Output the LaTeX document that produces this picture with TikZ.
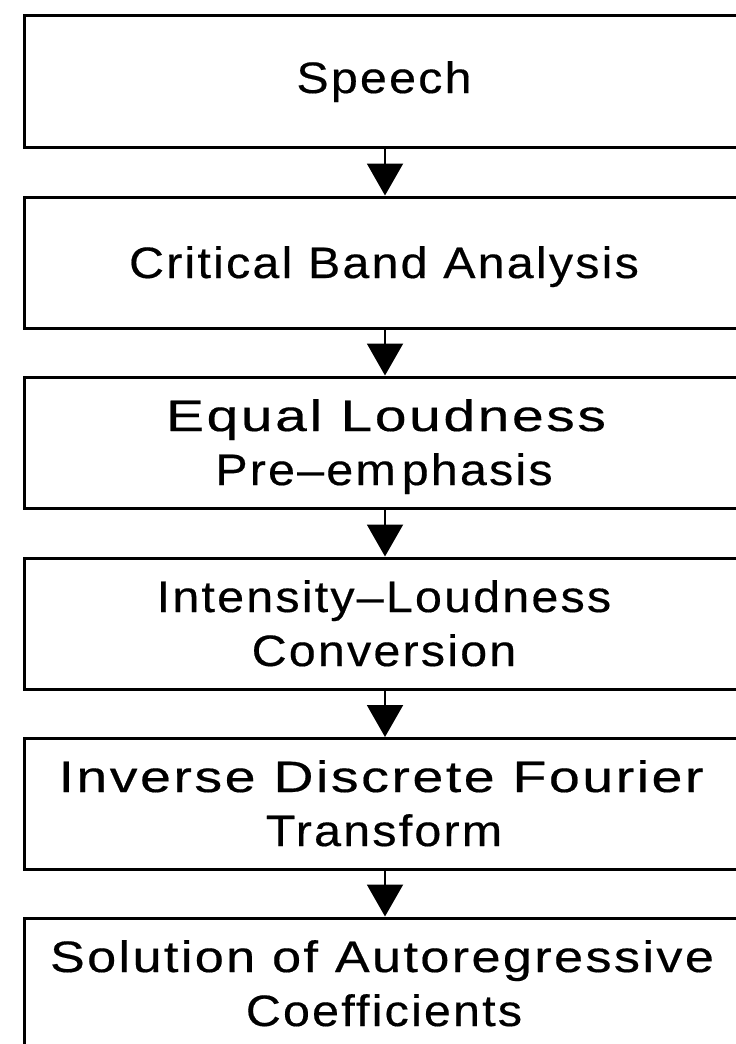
\documentclass[tikz,border=0pt]{standalone}
\usepackage{fontspec}
\usepackage{graphicx}
\setmainfont{Liberation Sans}[LetterSpace=5,FakeStretch=1.1,FakeBold=0.4]
\usetikzlibrary{arrows.meta}
\newcommand\wideto[2]{\sbox0{#2}\dimen0=\wd0\relax\pgfmathsetmacro\sxf{#1/\the\dimen0}\scalebox{\sxf}[1]{\usebox0}}
\tikzset{
  box/.style={draw, line width=3pt, minimum width=722pt, minimum height=131pt, inner sep=0pt},
  lbl/.style={anchor=base, inner sep=0pt, font=\fontsize{44}{54}\selectfont},
  flow/.style={line width=2pt, -{Triangle[width=36pt,length=32pt]}}
}
\begin{document}
\begin{tikzpicture}[x=1pt,y=-1pt]
\useasboundingbox (0,0) rectangle (736,1044);
\clip (0,0) rectangle (736,1044);
\node[box, minimum height=132pt] (b1) at (385,81) {};
\node[box] (b2) at (385,262.5) {};
\node[box] (b3) at (385,442.5) {};
\node[box] (b4) at (385,623.5) {};
\node[box] (b5) at (385,804) {};
\node[box] (b6) at (385,983.5) {};
\node[lbl] (t1) at (384,93) {Speech};
\node[lbl] (t2) at (384,278) {Critical Band Analysis};
\node[lbl] (t3a) at (386,431) {\wideto{440}{Equal Loudness}};
\node[lbl] (t3b) at (384,485) {Pre–em\kern6pt phasis};
\node[lbl] (t4a) at (384,612) {Intensity–Loudness};
\node[lbl] (t4b) at (384,666) {Conversion};
\node[lbl] (t5a) at (381,792) {\wideto{645}{Inverse Discrete Fourier}};
\node[lbl] (t5b) at (384,846) {Transform};
\node[lbl] (t6a) at (382,972) {\wideto{664}{Solution of Autoregressive}};
\node[lbl] (t6b) at (384,1026) {Coefficients};
\draw[flow] (b1.south) -- (b2.north);
\draw[flow] (b2.south) -- (b3.north);
\draw[flow] (b3.south) -- (b4.north);
\draw[flow] (b4.south) -- (b5.north);
\draw[flow] (b5.south) -- (b6.north);
\end{tikzpicture}
\end{document}
